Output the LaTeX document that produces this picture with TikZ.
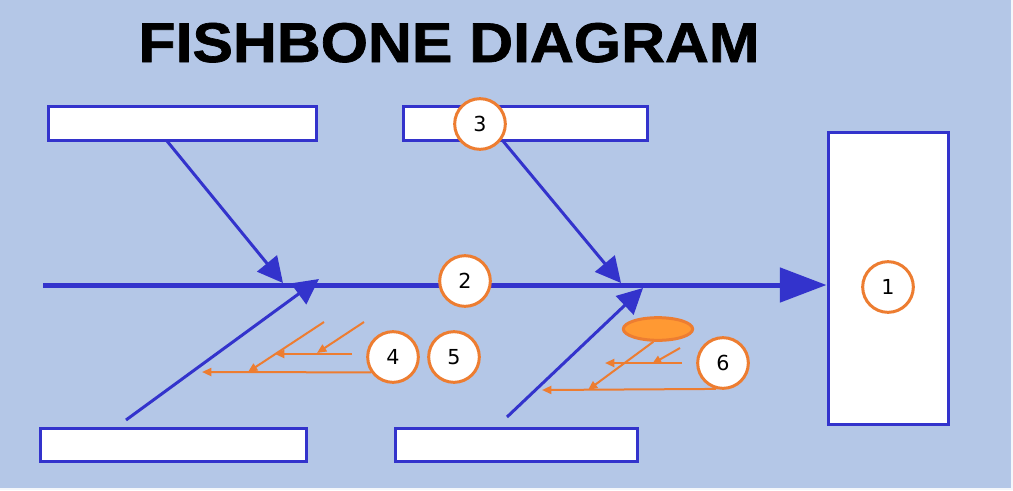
\documentclass[tikz,border=0pt]{standalone}
\usepackage{fontspec}
\setmainfont{DejaVu Sans}
\newfontfamily\titlefont{Liberation Sans Bold}[FakeBold=1.2]
\usetikzlibrary{arrows.meta,shapes.geometric}
\definecolor{bgblue}{HTML}{B4C7E7}
\definecolor{boneblue}{HTML}{3333CC}
\definecolor{orangeline}{HTML}{ED7D31}
\definecolor{orangefill}{HTML}{FF9933}
\tikzset{
  labelbox/.style={draw=boneblue, fill=white, line width=2.25pt, inner sep=0pt},
  numcirc/.style={circle, draw=orangeline, fill=white, line width=2.25pt, minimum size=38pt, inner sep=0pt, font=\fontsize{15.5}{18}\selectfont},
  spine/.style={draw=boneblue, line width=3.75pt, -{Triangle[length=35pt,width=25.5pt]}},
  bone/.style={draw=boneblue, line width=2.25pt, -{Triangle[length=19pt,width=19pt]}},
  twig/.style={draw=orangeline, line width=1.5pt, -{Triangle[length=7pt,width=6pt]}},
}
\begin{document}
\begin{tikzpicture}[x=0.75pt,y=-0.75pt]
\fill[white!85!bgblue] (0,0) rectangle (1013,490);
\fill[bgblue] (0,0) rectangle (1011,488);
\useasboundingbox (0,0) rectangle (1013,490);

% title
\node[anchor=base, inner sep=0pt] (title) at (449,62) {\scalebox{1.085}[1]{\titlefont\fontsize{42}{48}\selectfont FISHBONE DIAGRAM}};

% boxes
\node[labelbox, minimum width=201pt, minimum height=25.5pt] (tl) at (182,123) {};
\node[labelbox, minimum width=183pt, minimum height=25.5pt] (tm) at (525,123) {};
\node[labelbox, minimum width=90pt, minimum height=219.5pt] (rb) at (888,278.5) {};
\node[labelbox, minimum width=200pt, minimum height=24.75pt] (bl) at (173.5,444.5) {};
\node[labelbox, minimum width=181pt, minimum height=24.75pt] (bm) at (516.5,444.5) {};

% spine
\coordinate (sp0) at (43,285);
\draw[spine] (sp0) -- (rb.west |- sp0);

% bones
\coordinate (b1s) at (167,141);
\coordinate (b1e) at (283,283);
\coordinate (b3s) at (503,141);
\coordinate (b3e) at (621,283);
\coordinate (b2s) at (126,420);
\coordinate (b2e) at (319,279);
\coordinate (b4s) at (507,417);
\coordinate (b4e) at (643,288);
\draw[bone] (b1s) -- (b1e);
\draw[bone] (b3s) -- (b3e);
\draw[bone] (b2s) -- (b2e);
\draw[bone] (b4s) -- (b4e);

% circles
\node[numcirc] (c1) at (888,287) {1};
\node[numcirc] (c2) at (465,281) {2};
\node[numcirc] (c3) at (480,124) {3};
\node[numcirc] (c4) at (393,357) {4};
\node[numcirc] (c5) at (454,357) {5};
\node[numcirc] (c6) at (723,363) {6};

% left sub-causes
\coordinate (l1e) at (202,372);
\coordinate (l2s) at (324,322);
\coordinate (l2e) at (248,372);
\coordinate (l3s) at (352,354);
\coordinate (l3e) at (275,354);
\coordinate (l4s) at (364,322);
\coordinate (l4e) at (317,353);
\draw[twig] (c4.215) -- (l1e);
\draw[twig] (l2s) -- (l2e);
\draw[twig] (l3s) -- (l3e);
\draw[twig] (l4s) -- (l4e);

% right sub-causes
\node[ellipse, draw=orangeline, fill=orangefill, line width=2.25pt, minimum width=52pt, minimum height=17pt, inner sep=0pt] (el) at (658,329) {};
\coordinate (r1e) at (588,390);
\coordinate (r2s) at (682,363);
\coordinate (r2e) at (605,363);
\coordinate (r3s) at (680,348);
\coordinate (r3e) at (652,364);
\coordinate (r4e) at (542,390);
\draw[twig] (el.250) -- (r1e);
\draw[twig] (r2s) -- (r2e);
\draw[twig] (r3s) -- (r3e);
\draw[twig] (c6.255) -- (r4e);
\end{tikzpicture}
\end{document}
